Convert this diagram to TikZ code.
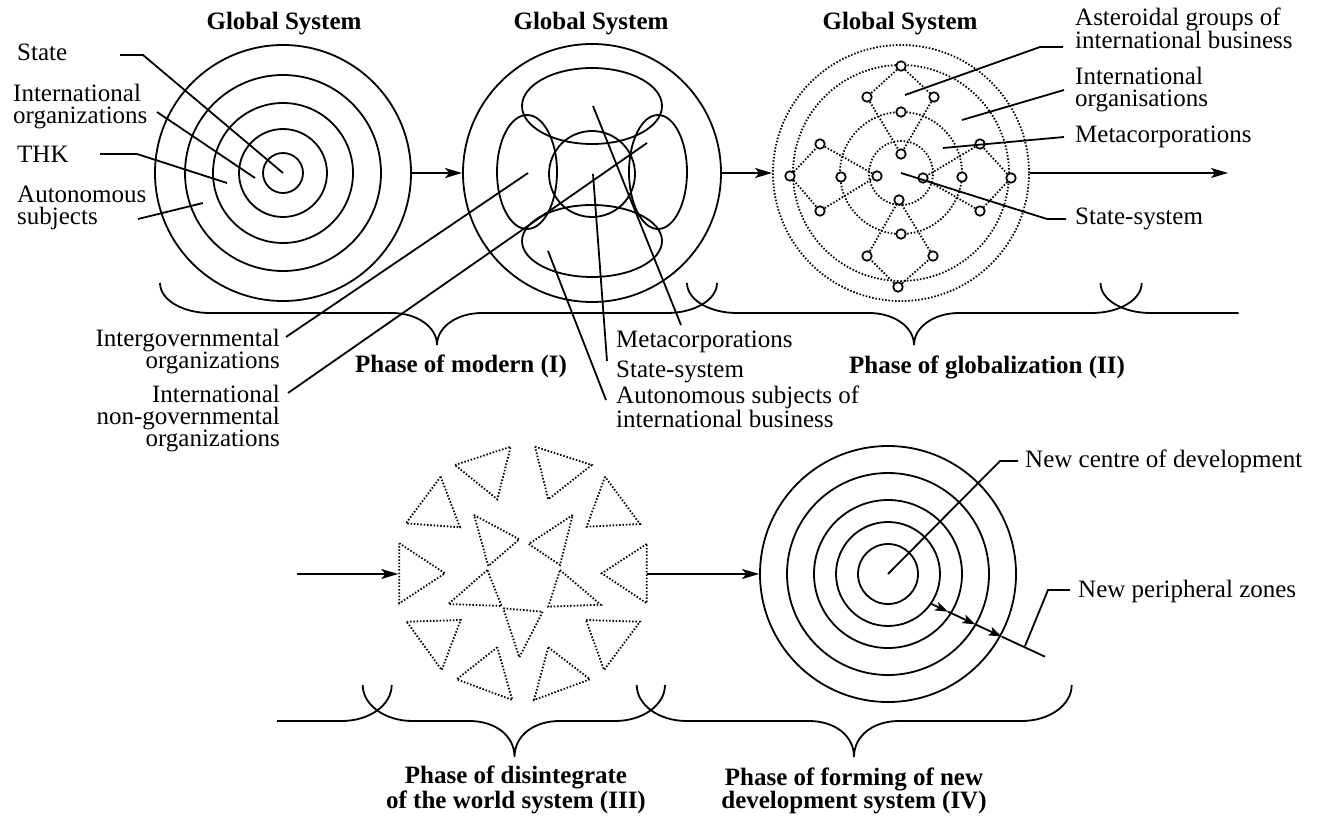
\documentclass[tikz,border=0pt]{standalone}
\usepackage{fontspec}
\setmainfont{Liberation Serif}
\usetikzlibrary{arrows.meta,calc}
\newcommand\phbrace[6]{% xl, xr, xm, ytop, yh, ytip
 \draw[ln] (#1,#4) .. controls (#1,{#4+0.55*(#5-#4)}) and ({#1+22},#5) .. ({#1+50},#5) -- ({#3-45},#5) .. controls ({#3-20},#5) and (#3,{#5+14}) .. (#3,#6) .. controls (#3,{#5+14}) and ({#3+20},#5) .. ({#3+45},#5) -- ({#2-50},#5) .. controls ({#2-22},#5) and (#2,{#4+0.55*(#5-#4)}) .. (#2,#4);}
\begin{document}
\begin{tikzpicture}[x=1pt,y=-1pt,
  ln/.style={line width=1.8pt,black},
  dotl/.style={line width=1.8pt,dash pattern=on 1.5pt off 1.8pt},
  arr/.style={ln,-{Stealth[length=17pt,width=10pt,inset=4pt]}},
  sarr/.style={ln,-{Stealth[length=13pt,width=9pt,inset=3pt]}},
  lb/.style={font=\fontsize{25}{22}\selectfont,inner sep=0pt},
  bt/.style={font=\fontsize{25}{23}\selectfont\bfseries,inner sep=0pt},
  ring/.style={circle,draw,line width=1.8pt,inner sep=0pt},
  dring/.style={circle,draw,dotl,inner sep=0pt},
  sc/.style={circle,draw,line width=1.7pt,fill=white,inner sep=0pt,minimum size=9.5pt}]
\useasboundingbox (0,0) rectangle (1322,818);

% ---------- Diagram 1 ----------
\coordinate (c1) at (283,173);
\node[ring,minimum size=256pt] (o1) at (c1) {};
\foreach \r in {20,44,70,98} \draw[ln] (c1) circle[radius=\r];
\node[bt,anchor=base] (g1) at (284,30) {Global System};
\node[lb,anchor=base west] (lst) at (17,61) {State};
\node[lb,anchor=base west,align=left] (lio) at (13,124) {International\\organizations};
\node[lb,anchor=base west] (lthk) at (17,163) {THK};
\node[lb,anchor=base west,align=left] (las) at (17,225) {Autonomous\\subjects};
\coordinate (s1) at (120,55); \coordinate (s2) at (143,55);
\draw[ln] (s1) -- (s2) -- (c1);
\coordinate (i1) at (157,112); \coordinate (i2) at (255,178);
\draw[ln] (i1) -- (i2);
\coordinate (k1) at (100,154); \coordinate (k2) at (137,154); \coordinate (k3) at (227,183);
\draw[ln] (k1) -- (k2) -- (k3);
\coordinate (a1) at (138,219); \coordinate (a2) at (203,203);
\draw[ln] (a1) -- (a2);

% ---------- Diagram 2 ----------
\coordinate (c2) at (592,173);
\node[ring,minimum size=258pt] (o2) at (c2) {};
\node[bt,anchor=base] (g2) at (591,30) {Global System};
\draw[ln] (592,174) circle[radius=43];
\draw[ln] (592,106) ellipse[x radius=70,y radius=38];
\draw[ln] (592,241) ellipse[x radius=70,y radius=36];
\draw[ln] (527,172) ellipse[x radius=30,y radius=57];
\draw[ln] (658,172) ellipse[x radius=29,y radius=57];
\draw[arr] (o1.east) -- (o2.west);
\node[lb,anchor=base west] (lmc) at (616,347) {Metacorporations};
\node[lb,anchor=base west] (lss) at (616,377) {State-system};
\node[lb,anchor=base west,align=left] (lasb) at (616,427) {Autonomous subjects of\\international business};
\node[lb,anchor=base east,align=right] (lig) at (280,368) {Intergovernmental\\organizations};
\node[lb,anchor=base east,align=right] (lngo) at (280,446) {International\\non-governmental\\organizations};
\coordinate (m1) at (593,106); \coordinate (m2) at (681,325);
\draw[ln] (m1) -- (m2);
\coordinate (q1) at (593,174); \coordinate (q2) at (607,361);
\draw[ln] (q1) -- (q2);
\coordinate (u1) at (548,251); \coordinate (u2) at (606,400);
\draw[ln] (u1) -- (u2);
\coordinate (v1) at (528,173); \coordinate (v2) at (286,337);
\draw[ln] (v1) -- (v2);
\coordinate (w1) at (647,143); \coordinate (w2) at (288,393);
\draw[ln] (w1) -- (w2);

% ---------- Diagram 3 ----------
\coordinate (c3) at (901,173);
\node[dring,minimum size=256pt] (o3) at (c3) {};
\node[dring,minimum size=216pt] (r3b) at (c3) {};
\node[dring,minimum size=122pt] (r3c) at (c3) {};
\node[dring,minimum size=64pt] (r3d) at (c3) {};
\node[bt,anchor=base] (g3) at (900,30) {Global System};
\draw[arr] (o2.east) -- (o3.west);
\coordinate (outr) at (1228,173);
\draw[arr] (o3.east) -- (outr);
\node[sc] (n1) at (901,66) {};
\node[sc] (n2) at (867,97) {};
\node[sc] (n3) at (934,97) {};
\node[sc] (n4) at (901,112) {};
\node[sc] (n5) at (901,154) {};
\node[sc] (n6) at (820,144) {};
\node[sc] (n7) at (980,144) {};
\node[sc] (n8) at (790,176) {};
\node[sc] (n9) at (841,177) {};
\node[sc] (n10) at (877,176) {};
\node[sc] (n11) at (923,178) {};
\node[sc] (n12) at (962,177) {};
\node[sc] (n13) at (1011,178) {};
\node[sc] (n14) at (820,211) {};
\node[sc] (n15) at (980,211) {};
\node[sc] (n16) at (899,200) {};
\node[sc] (n17) at (901,234) {};
\node[sc] (n18) at (867,256) {};
\node[sc] (n19) at (933,256) {};
\node[sc] (n20) at (898,287) {};
\foreach \a/\b in {n1/n2,n1/n3,n2/n5,n3/n5,n8/n6,n8/n14,n6/n10,n14/n10,n13/n7,n13/n15,n7/n11,n15/n11,n20/n18,n20/n19,n18/n16,n19/n16}
  \draw[dotl] (\a) -- (\b);
\node[lb,anchor=base west,align=left] (lag) at (1075,49) {Asteroidal groups of\\international business};
\node[lb,anchor=base west,align=left] (lio2) at (1075,107) {International\\organisations};
\node[lb,anchor=base west] (lmc2) at (1075,143) {Metacorporations};
\node[lb,anchor=base west] (lss2) at (1075,225) {State-system};
\coordinate (b1) at (905,95); \coordinate (b2) at (1040,47); \coordinate (b3) at (1063,47);
\draw[ln] (b1) -- (b2) -- (b3);
\coordinate (d1) at (962,120); \coordinate (d2) at (1064,90);
\draw[ln] (d1) -- (d2);
\coordinate (e1) at (943,148); \coordinate (e2) at (1064,137);
\draw[ln] (e1) -- (e2);
\coordinate (f2) at (1047,219); \coordinate (f3) at (1066,219);
\draw[ln] (c3) -- (f2) -- (f3);

% ---------- braces, top row ----------
\phbrace{160}{717}{437}{283}{313}{345}
\phbrace{687}{1141.7}{914}{283}{313}{345}
\draw[ln] (1100.5,283) .. controls (1100.5,299.5) and (1122.5,313) .. (1150.5,313) -- (1238.5,313);
\node[bt,anchor=base west] (p1) at (355,372) {Phase of modern (I)};
\node[bt,anchor=base west] (p2) at (849,373) {Phase of globalization (II)};

% ---------- Diagram 4 (triangles) ----------
\begin{scope}[dotl]
\draw (455,465) -- (510.7,446.7) -- (497.3,499.3) -- cycle;
\draw (535,446.7) -- (591.7,465) -- (548.3,499.3) -- cycle;
\draw (440.7,476.7) -- (406,523.3) -- (460,527.3) -- cycle;
\draw (605,476.7) -- (586.7,526.7) -- (640,524) -- cycle;
\draw (399.3,543.3) -- (445,573.3) -- (399.3,603.3) -- cycle;
\draw (646.7,544) -- (601.7,573.3) -- (646.7,603.3) -- cycle;
\draw (406.7,621.7) -- (460.7,620) -- (441.7,670) -- cycle;
\draw (586,620) -- (640,621.7) -- (604,670) -- cycle;
\draw (497.3,647.3) -- (456.7,679.3) -- (512.3,700) -- cycle;
\draw (548.3,647.3) -- (590,679.3) -- (534,700) -- cycle;
\draw (474,515) -- (519.3,539.3) -- (488.3,566) -- cycle;
\draw (572.7,515) -- (528.7,544) -- (560,565) -- cycle;
\draw (487.3,570) -- (448.3,604) -- (501.7,606) -- cycle;
\draw (560,570) -- (600.7,604.7) -- (548.3,606.7) -- cycle;
\draw (503.3,608.3) -- (542.7,611.7) -- (519.3,657.3) -- cycle;
\end{scope}
\coordinate (in3) at (296.7,574); \coordinate (t3l) at (398.3,574);
\draw[arr] (in3) -- (t3l);
\coordinate (t3r) at (646.7,574);

% ---------- Diagram 5 ----------
\coordinate (c4) at (888,574);
\node[ring,minimum size=256pt] (o4) at (c4) {};
\foreach \r in {30,52,74,101} \draw[ln] (c4) circle[radius=\r];
\draw[arr] (t3r) -- (o4.west);
\node[lb,anchor=base west] (lnc) at (1025,467) {New centre of development};
\node[lb,anchor=base west] (lnp) at (1078,597) {New peripheral zones};
\coordinate (h1) at (1000,461); \coordinate (h2) at (1018,461);
\draw[ln] (c4) -- (h1) -- (h2);
\coordinate (pa0) at (930,603.3);
\coordinate (pa1) at (948.1,611.7);
\coordinate (pa2) at (975.4,624.4);
\coordinate (pa3) at (1001.7,636.6);
\coordinate (pa4) at (1045,656.7);
\draw[sarr] (pa0) -- (pa1);
\draw[sarr] (pa1) -- (pa2);
\draw[sarr] (pa2) -- (pa3);
\draw[ln] (pa3) -- (pa4);
\coordinate (j1) at (1070,590); \coordinate (j2) at (1048,590); \coordinate (j3) at (1025,646);
\draw[ln] (j1) -- (j2) -- (j3);

% ---------- braces, bottom row ----------
\draw[ln] (277,721) -- (341.7,721) .. controls (369.7,721) and (391.7,704.8) .. (391.7,685);
\phbrace{362.7}{665}{514.5}{685}{721}{757}
\phbrace{636.7}{1071.7}{854}{685}{721}{757}
\node[bt,anchor=base,align=center] (p3) at (516,808) {Phase of disintegrate\\of the world system (III)};
\node[bt,anchor=base,align=center] (p4) at (854,808) {Phase of forming of new\\development system (IV)};
\end{tikzpicture}
\end{document}
